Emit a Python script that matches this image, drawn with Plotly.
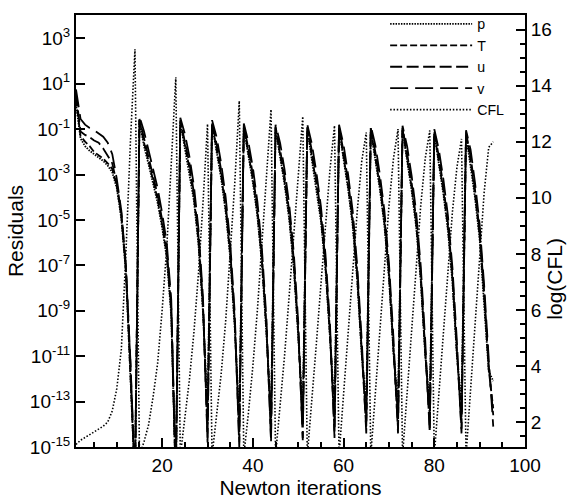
import plotly.graph_objects as go

# Newton iteration numbers
iterations = list(range(1, 94))

# log10 of residuals (one value per iteration)
res_p = [
    0.1, -1.4, -1.75, -1.95, -2.1, -2.25, -2.4, -2.6, -2.9, -3.6, -4.95, -7.3, -11.6, -16.5,
    -0.65, -1.75, -2.55, -3.35, -4.25, -5.35, -6.65, -9.2, -16.5,
    -0.7, -1.85, -2.85, -4.15, -6.05, -9.05, -13.4,
    -0.8, -2.0, -3.15, -4.65, -6.65, -9.75, -13.6,
    -0.95, -2.2, -3.35, -4.85, -6.95, -10.05, -13.5,
    -1.0, -2.25, -3.45, -4.95, -7.05, -10.15, -13.4,
    -1.0, -2.3, -3.55, -5.05, -7.15, -10.25, -13.2,
    -1.0, -2.35, -3.65, -5.25, -7.65, -10.95, -13.1,
    -1.05, -2.35, -3.65, -5.25, -7.55, -10.85, -13.0,
    -1.05, -2.4, -3.7, -5.3, -7.65, -10.95, -13.1,
    -1.2, -2.55, -3.85, -5.45, -7.75, -11.05, -13.0,
    -1.25, -2.55, -4.05, -5.85, -8.55, -11.65, -12.1,
]
res_T = [
    0.3, -1.3, -1.55, -1.75, -2.0, -2.15, -2.3, -2.5, -2.75, -3.5, -4.85, -7.2, -11.5, -16.5,
    -0.6, -1.6, -2.4, -3.2, -4.1, -5.2, -6.5, -9.0, -16.5,
    -0.65, -1.7, -2.7, -4.0, -5.9, -8.9, -14.0,
    -0.75, -1.85, -3.0, -4.5, -6.5, -9.6, -14.2,
    -0.9, -2.05, -3.2, -4.7, -6.8, -9.9, -14.0,
    -0.95, -2.1, -3.3, -4.8, -6.9, -10.0, -13.9,
    -0.95, -2.15, -3.4, -4.9, -7.0, -10.1, -13.8,
    -0.95, -2.2, -3.5, -5.1, -7.5, -10.8, -13.6,
    -1.0, -2.2, -3.5, -5.1, -7.4, -10.7, -13.7,
    -1.0, -2.25, -3.55, -5.15, -7.5, -10.8, -13.6,
    -1.15, -2.4, -3.7, -5.3, -7.6, -10.9, -13.7,
    -1.2, -2.4, -3.9, -5.7, -8.4, -11.6, -13.3,
]
res_u = [
    0.55, -1.1, -1.25, -1.35, -1.5, -1.6, -1.85, -2.15, -2.5, -3.4, -4.7, -7.1, -11.3, -16.5,
    -0.55, -1.4, -2.2, -3.0, -3.9, -5.0, -6.3, -8.8, -16.5,
    -0.6, -1.5, -2.5, -3.8, -5.7, -8.7, -14.6,
    -0.7, -1.65, -2.8, -4.3, -6.3, -9.4, -14.8,
    -0.85, -1.85, -3.0, -4.5, -6.6, -9.7, -14.6,
    -0.9, -1.9, -3.1, -4.6, -6.7, -9.8, -14.6,
    -0.9, -1.95, -3.2, -4.7, -6.8, -9.9, -14.4,
    -0.9, -2.0, -3.3, -4.9, -7.3, -10.6, -14.2,
    -0.95, -2.0, -3.3, -4.9, -7.2, -10.5, -14.2,
    -0.95, -2.05, -3.35, -4.95, -7.3, -10.6, -14.2,
    -1.1, -2.2, -3.5, -5.1, -7.4, -10.7, -14.2,
    -1.15, -2.2, -3.7, -5.5, -8.2, -11.4, -13.6,
]
res_v = [
    0.75, -0.55, -0.8, -0.95, -1.05, -1.2, -1.33, -1.6, -2.1, -3.2, -4.6, -7.0, -11.2, -16.5,
    -0.45, -1.1, -1.9, -2.7, -3.6, -4.7, -6.0, -8.5, -16.5,
    -0.5, -1.2, -2.2, -3.5, -5.4, -8.4, -14.8,
    -0.6, -1.35, -2.5, -4.0, -6.0, -9.1, -15.0,
    -0.75, -1.55, -2.7, -4.2, -6.3, -9.4, -14.8,
    -0.8, -1.6, -2.8, -4.3, -6.4, -9.5, -14.7,
    -0.8, -1.65, -2.9, -4.4, -6.5, -9.6, -14.6,
    -0.8, -1.7, -3.0, -4.6, -7.0, -10.3, -14.4,
    -0.85, -1.7, -3.0, -4.6, -6.9, -10.2, -14.4,
    -0.85, -1.75, -3.05, -4.65, -7.0, -10.3, -14.4,
    -1.0, -1.9, -3.2, -4.8, -7.1, -10.4, -14.4,
    -1.05, -1.9, -3.4, -5.2, -7.9, -11.1, -14.1,
]

# log(CFL), right axis
log_cfl = [
    1.2, 1.35, 1.45, 1.55, 1.65, 1.75, 1.85, 2.0, 2.4, 3.2, 4.6, 8.0, 12.0, 15.3,
    0.8, 1.3, 1.9, 2.9, 4.1, 6.0, 8.2, 11.2, 14.3,
    0.8, 2.1, 3.5, 5.2, 7.3, 9.8, 12.63,
    0.8, 2.2, 3.7, 5.6, 7.9, 10.5, 13.45,
    0.8, 2.3, 4.0, 6.0, 8.3, 10.8, 13.15,
    0.8, 2.5, 4.4, 6.5, 8.7, 10.9, 12.9,
    0.8, 2.7, 4.8, 6.9, 9.0, 11.0, 12.57,
    0.8, 3.0, 5.2, 7.5, 9.5, 11.3, 12.33,
    0.8, 3.0, 5.3, 7.6, 9.7, 11.4, 12.45,
    0.8, 3.0, 5.3, 7.6, 9.7, 11.4, 12.4,
    0.8, 3.0, 5.2, 7.4, 9.5, 11.1, 12.1,
    0.8, 3.2, 5.6, 8.0, 10.2, 11.8, 12.0,
]

# left axis tick labels
res_tick_exp = [3, 1, -1, -3, -5, -7, -9, -11, -13, -15]
res_tick_text = ["10<sup>%d</sup>" % e for e in res_tick_exp]

FONT = "Liberation Sans, Arial, Helvetica, sans-serif"

series = [
    ("p", res_p, "1.5px,1.2px"),
    ("T", res_T, "7px,3px"),
    ("u", res_u, "12px,4.5px"),
    ("v", res_v, "18px,7px"),
]

fig = go.Figure()
for name, vals, dash in series:
    fig.add_trace(go.Scatter(
        x=iterations, y=[10 ** v for v in vals], name=name, mode="lines",
        line=dict(color="black", width=1.8, dash=dash),
    ))
fig.add_trace(go.Scatter(
    x=iterations, y=log_cfl, name="CFL", mode="lines", yaxis="y2",
    line=dict(color="black", width=1.6, dash="1.5px,1.8px"),
))

axis_common = dict(
    showline=True, linecolor="black", linewidth=2, ticks="inside",
    tickcolor="black", tickwidth=1.5, showgrid=False, zeroline=False,
    tickfont=dict(family=FONT, size=19, color="black"),
)

fig.update_layout(
    width=569, height=502,
    margin=dict(l=75.5, r=44, t=8, b=55),
    paper_bgcolor="white", plot_bgcolor="white",
    font=dict(family=FONT, color="black"),
    showlegend=True,
    legend=dict(
        x=0.6885, y=1.016, xanchor="left", yanchor="top",
        bgcolor="rgba(0,0,0,0)", borderwidth=0,
        font=dict(family=FONT, size=14.2, color="black"),
        itemwidth=82, tracegroupgap=0,
    ),
    xaxis=dict(
        range=[1, 100], tick0=0, dtick=20, ticklen=9, mirror=True,
        minor=dict(ticks="inside", ticklen=5, dtick=5, tick0=0, tickcolor="black"),
        title=dict(text="Newton iterations", font=dict(family=FONT, size=21), standoff=5),
        **axis_common,
    ),
    yaxis=dict(
        type="log", range=[-15, 4.03],
        tickvals=[10 ** e for e in res_tick_exp], ticktext=res_tick_text,
        ticklen=9,
        title=dict(text="Residuals", font=dict(family=FONT, size=21), standoff=0),
        **axis_common,
    ),
    yaxis2=dict(
        overlaying="y", side="right", range=[1.11, 16.52],
        tick0=0, dtick=2, ticklen=9,
        minor=dict(ticks="inside", ticklen=5, dtick=0.5, tick0=0, tickcolor="black"),
        **axis_common,
    ),
    annotations=[dict(
        text="log(CFL)", textangle=-90, xref="paper", yref="paper",
        x=1.065, y=0.39, xanchor="center", yanchor="middle", showarrow=False,
        font=dict(family=FONT, size=21, color="black"),
    )],
)

fig.write_html("out.html")
